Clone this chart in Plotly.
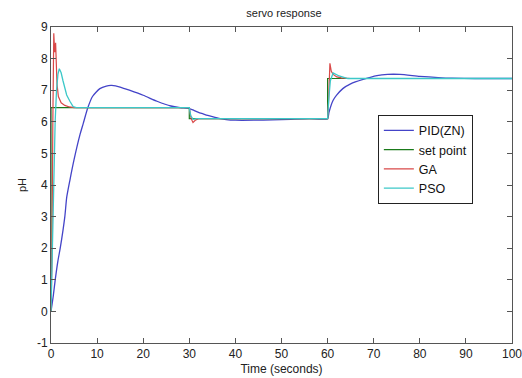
import plotly.graph_objects as go

# PID (Ziegler-Nichols) response
pid_t = [0, 0.5, 0.9, 1.5, 2, 3, 3.4, 4.1, 5, 6.3, 7, 8, 9, 10.6, 12, 13, 14, 15, 17, 20, 23, 26, 28, 30,
         31, 32, 33, 34, 35, 36.7, 38, 40, 44, 48, 52, 56, 60, 60.3, 61.2, 62, 63.3, 65, 67.7, 70.7, 73,
         75.7, 80, 84, 87, 92, 100]
pid_y = [0, 0.5, 0.98, 1.6, 2.0, 3.0, 3.6, 4.15, 4.8, 5.6, 5.95, 6.45, 6.8, 7.05, 7.13, 7.15, 7.14, 7.1, 7.0,
         6.84, 6.65, 6.5, 6.45, 6.42, 6.36, 6.3, 6.25, 6.2, 6.16, 6.1, 6.07, 6.05, 6.05, 6.06, 6.08, 6.1, 6.1,
         6.3, 6.68, 6.85, 7.05, 7.2, 7.34, 7.46, 7.5, 7.5, 7.44, 7.4, 7.38, 7.37, 7.37]

# Set point
sp_t = [0, 0, 30, 30, 60, 60, 100]
sp_y = [0, 6.45, 6.45, 6.1, 6.1, 7.37, 7.37]

# GA tuned response
ga_t = [0, 0.2, 0.4, 0.6, 0.8, 1.0, 1.3, 1.6, 2.2, 3, 4, 5, 30, 30.4, 30.8, 31.3, 32,
        60, 60.2, 60.4, 60.5, 60.8, 61.2, 62, 63, 65, 100]
ga_y = [0, 1.6, 6.0, 8.8, 8.2, 8.5, 7.2, 6.8, 6.6, 6.52, 6.47, 6.45, 6.45, 6.1, 5.98, 6.05, 6.1,
        6.1, 6.6, 7.5, 7.85, 7.6, 7.5, 7.42, 7.39, 7.37, 7.37]

# PSO tuned response
pso_t = [0, 0.3, 0.6, 0.9, 1.2, 1.5, 1.8, 2.2, 2.6, 3.4, 4.1, 4.8, 5.5, 30, 30.3, 30.8, 31.5,
         60, 60.3, 60.6, 61.2, 62.5, 64.4, 100]
pso_y = [0, 2, 4.5, 6.0, 7.0, 7.5, 7.68, 7.55, 7.3, 6.85, 6.65, 6.48, 6.45, 6.45, 6.2, 6.08, 6.1,
         6.1, 6.8, 7.3, 7.55, 7.45, 7.37, 7.37]

x_ticks = [0, 10, 20, 30, 40, 50, 60, 70, 80, 90, 100]
y_ticks = [-1, 0, 1, 2, 3, 4, 5, 6, 7, 8, 9]

FONT = "Liberation Sans, Arial"

fig = go.Figure()
fig.add_trace(go.Scatter(x=pid_t, y=pid_y, mode="lines", name="PID(ZN)",
                         line=dict(color="#4444c8", width=1.3, shape="spline", smoothing=0.6)))
fig.add_trace(go.Scatter(x=sp_t, y=sp_y, mode="lines", name="set point",
                         line=dict(color="#1a7a1a", width=1.2)))
fig.add_trace(go.Scatter(x=ga_t, y=ga_y, mode="lines", name="GA",
                         line=dict(color="#d94848", width=1.2)))
fig.add_trace(go.Scatter(x=pso_t, y=pso_y, mode="lines", name="PSO",
                         line=dict(color="#3cc8c8", width=1.3)))

axis_common = dict(showgrid=False, zeroline=False, showline=True, linecolor="#555555", linewidth=1,
                   mirror="ticks", ticks="inside", ticklen=5, tickcolor="#555555", automargin=False,
                   ticklabeloverflow="allow",
                   tickfont=dict(family=FONT, size=12, color="#222222"))

fig.update_layout(
    width=522, height=378,
    margin=dict(l=51, r=10, t=27, b=35),
    paper_bgcolor="white", plot_bgcolor="white",
    title=dict(text="servo response", x=0.544, xanchor="center", y=0.965, yanchor="middle",
               font=dict(family=FONT, size=11, color="#222222")),
    xaxis=dict(range=[0, 100], tickvals=x_ticks, ticktext=[str(v) for v in x_ticks],
               title=dict(text="Time (seconds)", standoff=4,
                          font=dict(family=FONT, size=12, color="#222222")),
               **axis_common),
    yaxis=dict(range=[-1, 9], tickvals=y_ticks, ticktext=[str(v) for v in y_ticks],
               title=dict(text="pH", standoff=8,
                          font=dict(family=FONT, size=11, color="#222222")),
               **axis_common),
    legend=dict(x=0.709, y=0.722, xanchor="left", yanchor="top",
                bgcolor="white", bordercolor="#222222", borderwidth=1,
                font=dict(family=FONT, size=12.5, color="#111111"),
                tracegroupgap=0),
    showlegend=True,
)

fig.write_html("out.html")
